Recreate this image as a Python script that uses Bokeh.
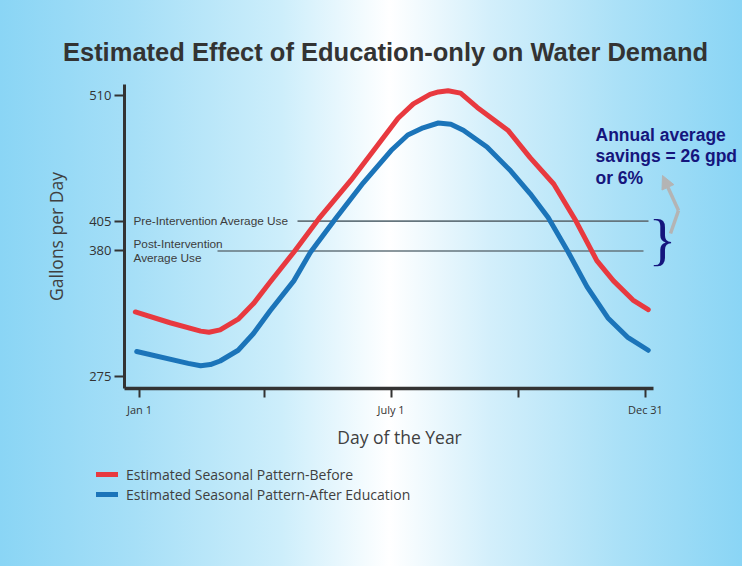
import math
from bokeh.plotting import figure
from bokeh.models import FixedTicker, Legend, LegendItem, Arrow, NormalHead
from bokeh.embed import file_html
from bokeh.resources import INLINE
from bokeh.core.properties import value

# ---------------- data ----------------
days_before = [-2, 23, 45, 51, 59, 72, 83, 95, 112, 130, 153, 172, 187, 198, 210, 216, 223,
               232, 244, 266, 282, 299, 315, 330, 342, 356, 367]
gpd_before = [329, 320, 313, 312, 314, 323, 336, 354, 379, 407, 439, 468, 491, 503, 511, 513, 514,
              512, 500, 481, 458, 436, 405, 372, 355, 339, 331]

days_after = [-1, 36, 45, 52, 59, 72, 83, 95, 112, 124, 142, 162, 182, 194, 205, 216,
              225, 234, 251, 268, 282, 295, 309, 323, 338, 352, 367]
gpd_after = [296, 286, 284, 285, 288, 297, 311, 330, 355, 379, 407, 437, 464, 477, 483, 487,
             486, 481, 467, 447, 428, 408, 380, 350, 324, 308, 297]

x_ticks = [1, 91, 182, 274, 365]
x_tick_labels = ["Jan 1", "", "July 1", "", "Dec 31"]
y_ticks = [275, 380, 405, 510]

pre_avg = 405
post_avg = 380

title_text = "Estimated Effect of Education-only on Water Demand"
x_label = "Day of the Year"
y_label = "Gallons per Day"
series_names = ["Estimated Seasonal Pattern-Before",
                "Estimated Seasonal Pattern-After Education"]
note_lines = ["Annual average", "savings = 26 gpd", "or 6%"]

# ---------------- layout (the plot frame fills the whole canvas) ----------------
W, H = 742, 566
PX_DAY = 1.39          # pixels per day
PX_GPD = 1.196         # pixels per gallon/day
X0_PX, X0_DAY = 139, 1      # Jan 1 tick position on the page
Y0_PX, Y0_GPD = 95, 510     # 510 tick position on the page


def dx(px):
    return X0_DAY + (px - X0_PX) / PX_DAY


def dy(py):
    return Y0_GPD - (py - Y0_PX) / PX_GPD


RED = "#e8393f"
BLUE = "#1b74b9"
NAVY = "#15157d"
FONT = "Open Sans"
AXIS = "#333333"

p = figure(width=W, height=H, output_backend="svg", toolbar_location=None,
           x_range=(dx(0), dx(W)), y_range=(dy(H), dy(0)),
           min_border=0,
           styles={"background": "linear-gradient(to right, #8ad5f5 0%, #a6dff7 18%, "
                                 "#cdeefb 38%, #ffffff 52.5%, #d3effb 66%, #a9e0f7 84%, #8ad5f5 100%)"})
p.background_fill_alpha = 0
p.border_fill_alpha = 0
p.outline_line_color = None
p.grid.visible = False

# axes placed at the corner of the drawing area
for ax in (p.xaxis[0], p.yaxis[0]):
    ax.axis_line_color = AXIS
    ax.major_tick_line_color = AXIS
    ax.major_tick_line_width = 2
    ax.major_tick_in = 0
    ax.minor_tick_line_color = None
    ax.major_label_text_font = FONT
    ax.major_label_text_color = AXIS

xa = p.xaxis[0]
xa.ticker = FixedTicker(ticks=x_ticks)
xa.major_label_overrides = dict(zip(x_ticks, x_tick_labels))
xa.fixed_location = dy(388)
xa.bounds = (dx(124), dx(653))
xa.axis_line_width = 3.5
xa.major_tick_out = 9
xa.major_label_text_font_size = "11px"
xa.major_label_standoff = 4

ya = p.yaxis[0]
ya.ticker = FixedTicker(ticks=y_ticks)
ya.fixed_location = dx(124)
ya.bounds = (dy(388), dy(84))
ya.axis_line_width = 3
ya.major_tick_out = 10
ya.major_label_text_font_size = "13px"
ya.major_label_standoff = 3

# title and axis captions
p.text(x=[dx(385)], y=[dy(51)], text=[title_text],
       text_font=value("Liberation Sans"), text_font_size="25.5px", text_font_style="bold",
       text_color="#333333", text_baseline="alphabetic", text_align="center")
p.text(x=[dx(399)], y=[dy(436)], text=[x_label],
       text_font=value(FONT), text_font_size="17.5px",
       text_color="#404040", text_baseline="middle", text_align="center")
p.text(x=[dx(55)], y=[dy(236)], text=[y_label], angle=math.pi / 2,
       text_font=value(FONT), text_font_size="17.5px",
       text_color="#404040", text_baseline="middle", text_align="center")

# average-use reference lines
p.segment(x0=[dx(297), dx(217)], x1=[dx(648), dx(643)],
          y0=[pre_avg, post_avg], y1=[pre_avg, post_avg],
          line_color="#65757d", line_width=1.6)

p.text(x=[dx(133)] * 3, y=[pre_avg, dy(243), dy(257)],
       text=["Pre-Intervention Average Use", "Post-Intervention", "Average Use"],
       text_font=value("Liberation Sans"), text_font_size="11.8px",
       text_color="#3c3c3c", text_baseline="middle", text_align="left")

# curves
r_before = p.line(days_before, gpd_before, line_color=RED, line_width=5,
                  line_join="round", line_cap="round")
r_after = p.line(days_after, gpd_after, line_color=BLUE, line_width=5,
                 line_join="round", line_cap="round")

# savings annotation
p.text(x=[dx(595)] * 3, y=[dy(134), dy(155), dy(177)], text=note_lines,
       text_font=value("Liberation Sans"), text_font_size="17.5px", text_font_style="bold",
       text_color=NAVY, text_baseline="middle", text_align="left")

p.text(x=[dx(662)], y=[dy(239)], text=["}"],
       text_font=value("Liberation Serif"), text_font_size="58px",
       text_color=NAVY, text_baseline="middle", text_align="center")

GRAY = "#b4b4b4"
p.line([dx(670), dx(678)], [dy(233), dy(210)], line_color=GRAY, line_width=3.5)
p.add_layout(Arrow(end=NormalHead(size=13, fill_color=GRAY, line_color=GRAY),
                   x_start=dx(678), y_start=dy(210), x_end=dx(662), y_end=dy(175),
                   line_color=GRAY, line_width=3.5))

# legend under the chart
legend = Legend(items=[LegendItem(label=series_names[0], renderers=[r_before]),
                       LegendItem(label=series_names[1], renderers=[r_after])],
                location=(96, H - 504), orientation="vertical",
                glyph_width=22, glyph_height=20, label_height=20, spacing=0,
                padding=0, margin=0, label_standoff=8,
                background_fill_alpha=0, border_line_alpha=0,
                label_text_font=FONT, label_text_font_size="14px",
                label_text_color="#3f3f3f")
p.add_layout(legend)

open("out.html", "w").write(file_html(p, INLINE))
